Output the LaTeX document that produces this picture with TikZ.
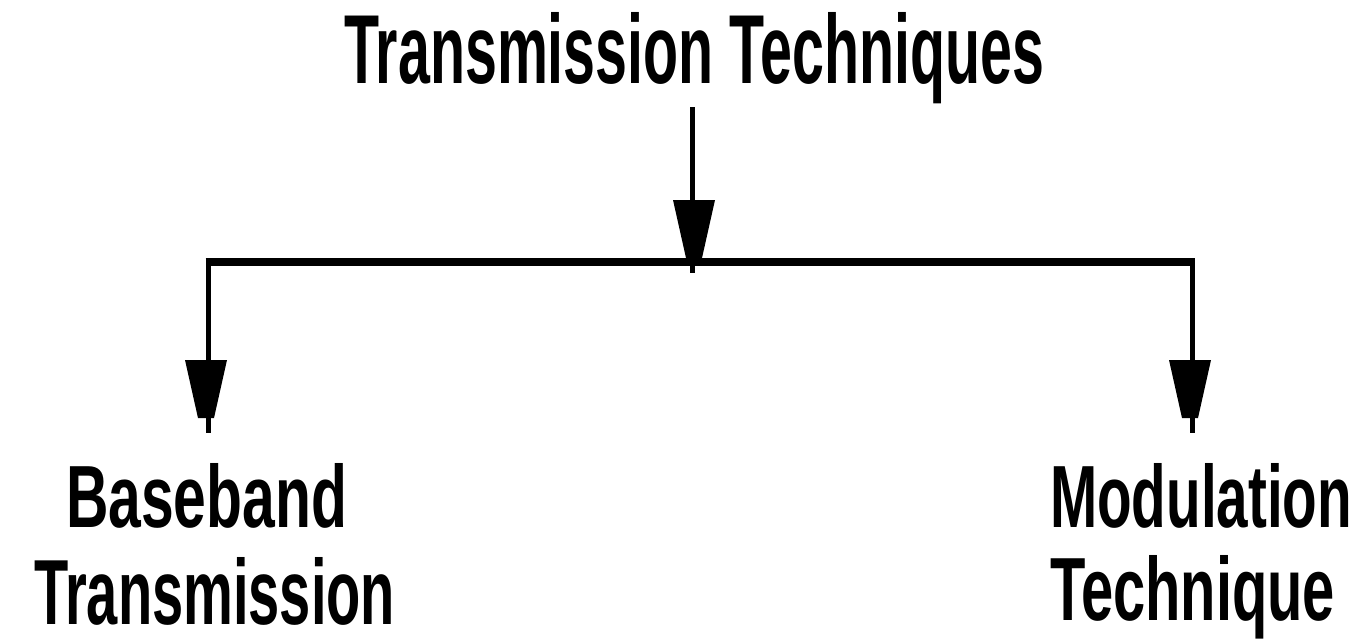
\documentclass[tikz,border=0pt]{standalone}
\usepackage{fontspec}
\setmainfont{Liberation Sans}
\usetikzlibrary{calc}
\tikzset{
  lbl/.style={inner sep=0pt, outer sep=0pt, anchor=base west, font=\bfseries},
  vline/.style={line width=5pt},
  hline/.style={line width=7.5pt},
  head/.style={fill=black}
}
\newcommand\myhead[1]{\fill[head] ($(#1)+(-21,-58)$) -- ($(#1)+(21,-58)$) -- ($(#1)+(8,0)$) -- ($(#1)+(-8,0)$) -- cycle;}
\begin{document}
\begin{tikzpicture}[x=1pt,y=-1pt]
\useasboundingbox (0,0) rectangle (1358,641);
\node[lbl] (title) at (344,83) {\resizebox{700pt}{71pt}{Transmission Techniques}};
\node[lbl] (bb1) at (66,527) {\resizebox{281pt}{64pt}{Baseband}};
\node[lbl] (bb2) at (34,624) {\resizebox{361pt}{67pt}{Transmission}};
\node[lbl] (mt1) at (1050,527) {\resizebox{302pt}{64pt}{Modulation}};
\node[lbl] (mt2) at (1050,620) {\resizebox{285pt}{65pt}{Technique}};
\coordinate (t) at (692,107);
\coordinate (j) at (692,262);
\coordinate (jend) at (692,273);
\coordinate (l) at (208,262);
\coordinate (r) at (1192,262);
\coordinate (ltip) at (206,418);
\coordinate (rtip) at (1190,418);
\coordinate (lend) at (208,433);
\coordinate (rend) at (1192,433);
\coordinate (ctip) at (694,258);
\draw[vline] (t) -- (jend);
\draw[hline] ([xshift=-2.5pt]l) -- ([xshift=2.5pt]r);
\draw[vline] (l) -- (lend);
\draw[vline] (r) -- (rend);
\myhead{ctip}
\myhead{ltip}
\myhead{rtip}
\end{tikzpicture}
\end{document}
